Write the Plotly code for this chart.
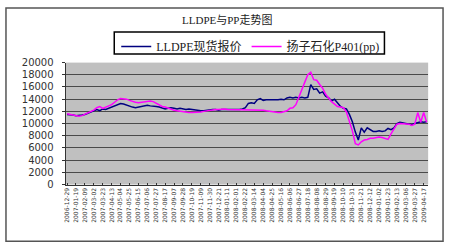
import pandas as pd
import plotly.graph_objects as go

W, H = 450, 250

title_text = "LLDPE与PP走势图"
series_names = ["LLDPE现货报价", "扬子石化P401(pp)"]

# weekly observation dates (category labels)
dates = [d.strftime("%Y-%m-%d") for d in pd.date_range("2006-12-29", periods=122, freq="7D")]

lldpe = [
    11500, 11500, 11400, 11300, 11300, 11400, 11500, 11700, 11800, 12000,
    12300, 12100, 12400, 12300, 12500, 12700, 13000, 13200, 13300, 13200,
    13000, 12800, 12700, 12600, 12700, 12800, 12900, 13000, 12900, 12900,
    12800, 12700, 12600, 12400, 12500, 12600, 12500, 12400, 12500, 12400,
    12300, 12400, 12300, 12200, 12200, 12100, 12100, 12200, 12200, 12300,
    12300, 12200, 12300, 12300, 12200, 12300, 12300, 12200, 12300, 12400,
    12600, 13300, 13400, 13300, 13900, 14100, 13800, 13900, 13900, 13800,
    13900, 13900, 14000, 13900, 14200, 14300, 14200, 14300, 14200, 14300,
    14200, 14300, 16400, 15600, 15700, 15000, 15200, 14500, 14200, 13700,
    14000, 13300, 12800, 12500, 12400, 11500, 10300, 8600, 7300, 9300,
    8600, 9300, 9000, 8700, 8700, 8800, 8700, 8800, 9200, 9000,
    9300, 10000, 10200, 10100, 10000, 9900, 9800, 10000, 10100, 10300,
    10200, 10300,
]

pp = [
    11600, 11500, 11400, 11300, 11200, 11300, 11500, 11800, 12000, 12200,
    12600, 12800, 12500, 12700, 12900, 13100, 13500, 13900, 14100, 14100,
    14000, 13800, 13600, 13500, 13400, 13500, 13600, 13700, 13700, 13600,
    13300, 13000, 12800, 12700, 12500, 12300, 12200, 12100, 12000, 12000,
    11900, 11800, 11800, 11800, 11900, 11900, 12000, 12100, 12200, 12300,
    12300, 12300, 12400, 12400, 12300, 12300, 12300, 12300, 12200, 12200,
    12200, 12300, 12300, 12200, 12300, 12300, 12200, 12100, 12000, 11900,
    11900, 11800, 11800, 11900, 12100, 12500, 12600, 13100, 14400, 15800,
    16800, 18000, 18400, 17200, 17100, 16400, 15800, 14800, 14200, 13600,
    13200, 12800, 12700, 12600, 11900, 10300, 8800, 6700, 6500, 7000,
    7300, 7400, 7600, 7600, 7700, 7800, 7700, 7500, 7400, 8300,
    9000, 9900, 10000, 10000, 10000, 9900, 9700, 9900, 11800, 10200,
    11800, 10200,
]

y_ticks = list(range(0, 20001, 2000))

fig = go.Figure()
fig.add_trace(go.Scatter(x=dates, y=lldpe, mode="lines", name=series_names[0],
                         line=dict(color="#000080", width=1.5)))
fig.add_trace(go.Scatter(x=dates, y=pp, mode="lines", name=series_names[1],
                         line=dict(color="#FF00FF", width=1.5)))

px_x = lambda p: p / W
px_y = lambda p: 1 - p / H

fig.update_layout(
    width=W, height=H,
    margin=dict(l=0, r=0, t=0, b=0),
    paper_bgcolor="white",
    plot_bgcolor="#C0C0C0",
    font=dict(family="Liberation Serif, Noto Sans CJK SC", size=10, color="#222"),
    showlegend=True,
    legend=dict(
        orientation="h",
        x=px_x(114), y=px_y(28), xanchor="left", yanchor="top",
        borderwidth=0, bgcolor="rgba(0,0,0,0)",
        font=dict(family="Liberation Serif, Noto Sans CJK SC", size=12, color="#222"),
        itemwidth=30, tracegroupgap=0,
    ),
    annotations=[
        dict(text=title_text, x=0.5, y=px_y(16), xref="paper", yref="paper",
             xanchor="center", yanchor="middle", showarrow=False,
             font=dict(family="Liberation Serif, Noto Sans CJK SC", size=11, color="#222")),
    ],
    shapes=[
        dict(type="rect", xref="paper", yref="paper", layer="above",
             x0=px_x(3), x1=px_x(443), y0=px_y(246), y1=px_y(3),
             line=dict(color="#555", width=1.5)),
        dict(type="rect", xref="paper", yref="paper", layer="above",
             x0=px_x(112), x1=px_x(384), y0=px_y(51), y1=px_y(28),
             line=dict(color="#000000", width=1.5)),
    ],
    xaxis=dict(
        domain=[px_x(63), px_x(428)],
        type="category",
        tickmode="array",
        tickvals=dates[::3], ticktext=dates[::3],
        tickangle=-90,
        tickfont=dict(family="DejaVu Sans", size=6, color="#333"),
        ticks="inside", ticklen=2, tickcolor="#333",
        showgrid=False, showline=True, linecolor="#333", linewidth=1,
        range=[-0.5, len(dates) - 0.5],
        mirror=False,
    ),
    yaxis=dict(
        domain=[px_y(187), px_y(60)],
        range=[0, 20000],
        tickvals=y_ticks,
        tickformat="d",
        tickfont=dict(family="DejaVu Sans", size=10, color="#333"),
        ticks="outside", ticklen=3, tickcolor="#333",
        ticklabelstandoff=6,
        showgrid=True, gridcolor="#4a4a4a", gridwidth=1,
        showline=True, linecolor="#333", linewidth=1,
        zeroline=False,
    ),
)

fig.write_html("out.html")
